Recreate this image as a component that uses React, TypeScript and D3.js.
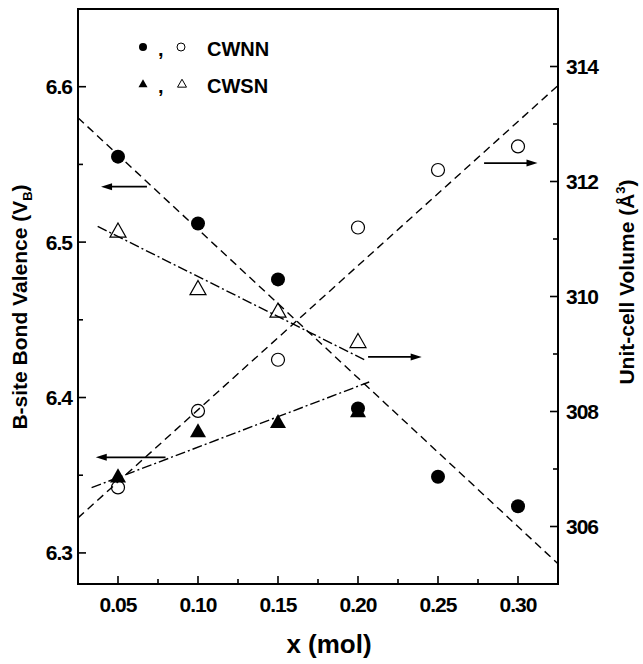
import React from "react";
import * as d3 from "d3";

const xValues = [0.05, 0.1, 0.15, 0.2, 0.25, 0.3];
const xValuesSN = [0.05, 0.1, 0.15, 0.2];
const cwnnValence = [6.555, 6.512, 6.476, 6.393, 6.349, 6.33];
const cwnnVolume = [306.68, 308.01, 308.9, 311.2, 312.2, 312.61];
const cwsnValence = [6.349, 6.378, 6.384, 6.391];
const cwsnVolume = [311.13, 310.13, 309.74, 309.21];

const cwnnValenceFit = [[0.025, 6.58], [0.325, 6.293]];
const cwnnVolumeFit = [[0.025, 306.15], [0.325, 313.67]];
const cwsnValenceFit = [[0.0335, 6.342], [0.207, 6.41]];
const cwsnVolumeFit = [[0.0373, 311.22], [0.204, 308.9]];

// arrows: axis, y value, tail x, head x
const arrows = [
  { axis: "left", y: 6.5357, from: 0.0681, to: 0.0394 },
  { axis: "right", y: 312.32, from: 0.2788, to: 0.3122 },
  { axis: "right", y: 308.95, from: 0.2063, to: 0.2398 },
  { axis: "left", y: 6.3615, from: 0.0797, to: 0.0361 },
];

const xTicks = [0.05, 0.1, 0.15, 0.2, 0.25, 0.3];
const xMinor = [0.075, 0.125, 0.175, 0.225, 0.275];
const leftTicks = [6.3, 6.4, 6.5, 6.6];
const leftMinor = [6.35, 6.45, 6.55];
const rightTicks = [306, 308, 310, 312, 314];
const rightMinor = [307, 309, 311, 313];

const W = 643;
const H = 664;
const m = { left: 78, right: 558, top: 9, bottom: 584 };
const FONT = "'Liberation Sans', Arial, Helvetica, sans-serif";

export default function App() {
  const x = d3.scaleLinear().domain([0.025, 0.325]).range([m.left, m.right]);
  const yL = d3.scaleLinear().domain([6.28, 6.65]).range([m.bottom, m.top]);
  const yR = d3.scaleLinear().domain([305, 315]).range([m.bottom, m.top]);

  const lineL = d3.line<number[]>().x((d) => x(d[0])).y((d) => yL(d[1]));
  const lineR = d3.line<number[]>().x((d) => x(d[0])).y((d) => yR(d[1]));

  const tri = (cx: number, cy: number, s: number) => {
    const h = s * 0.88;
    return `M${cx},${cy - h * 0.6}L${cx + s / 2},${cy + h * 0.4}L${cx - s / 2},${cy + h * 0.4}Z`;
  };

  const major = 8;
  const minor = 5;

  return (
    <svg
      width={W}
      height={H}
      style={{ position: "absolute", left: 0, top: 0, background: "#fff" }}
      fontFamily={FONT}
    >
      <rect x={0} y={0} width={W} height={H} fill="#fff" />
      {/* fit lines */}
      <path d={lineL(cwnnValenceFit) || ""} fill="none" stroke="#000" strokeWidth={1.4} strokeDasharray="8,5" />
      <path d={lineR(cwnnVolumeFit) || ""} fill="none" stroke="#000" strokeWidth={1.4} strokeDasharray="8,5" />
      <path d={lineL(cwsnValenceFit) || ""} fill="none" stroke="#000" strokeWidth={1.4} strokeDasharray="10,3,2,3" />
      <path d={lineR(cwsnVolumeFit) || ""} fill="none" stroke="#000" strokeWidth={1.4} strokeDasharray="10,3,2,3" />

      {/* arrows */}
      {arrows.map((a, i) => {
        const yy = a.axis === "left" ? yL(a.y) : yR(a.y);
        const x1 = x(a.from);
        const x2 = x(a.to);
        const dir = x2 > x1 ? 1 : -1;
        const hl = 11;
        return (
          <g key={i}>
            <line x1={x1} y1={yy} x2={x2 - dir * hl * 0.8} y2={yy} stroke="#000" strokeWidth={1.6} />
            <path d={`M${x2},${yy}L${x2 - dir * hl},${yy - 3.5}L${x2 - dir * hl},${yy + 3.5}Z`} fill="#000" />
          </g>
        );
      })}

      {/* data markers */}
      {cwnnValence.map((v, i) => (
        <circle key={"a" + i} cx={x(xValues[i])} cy={yL(v)} r={7} fill="#000" />
      ))}
      {cwnnVolume.map((v, i) => (
        <circle key={"b" + i} cx={x(xValues[i])} cy={yR(v)} r={6.5} fill="#fff" fillOpacity={0} stroke="#000" strokeWidth={1.2} />
      ))}
      {cwsnValence.map((v, i) => (
        <path key={"c" + i} d={tri(x(xValuesSN[i]), yL(v), 16)} fill="#000" />
      ))}
      {cwsnVolume.map((v, i) => (
        <path key={"d" + i} d={tri(x(xValuesSN[i]), yR(v), 16)} fill="none" stroke="#000" strokeWidth={1.2} />
      ))}

      {/* frame */}
      <rect x={m.left} y={m.top} width={m.right - m.left} height={m.bottom - m.top} fill="none" stroke="#000" strokeWidth={2} />

      {/* x ticks */}
      {xTicks.map((t) => (
        <g key={"xt" + t}>
          <line x1={x(t)} x2={x(t)} y1={m.bottom} y2={m.bottom - major} stroke="#000" strokeWidth={1.6} />
          <text x={x(t)} y={612} textAnchor="middle" fontSize={21} fontWeight="bold" letterSpacing={-1}>
            {d3.format(".2f")(t)}
          </text>
        </g>
      ))}
      {xMinor.map((t) => (
        <line key={"xm" + t} x1={x(t)} x2={x(t)} y1={m.bottom} y2={m.bottom - minor} stroke="#000" strokeWidth={1.6} />
      ))}

      {/* left ticks */}
      {leftTicks.map((t) => (
        <g key={"lt" + t}>
          <line x1={m.left} x2={m.left + major} y1={yL(t)} y2={yL(t)} stroke="#000" strokeWidth={1.6} />
          <text x={72} y={yL(t)} dy="0.36em" textAnchor="end" fontSize={21} fontWeight="bold" letterSpacing={-1}>
            {d3.format(".1f")(t)}
          </text>
        </g>
      ))}
      {leftMinor.map((t) => (
        <line key={"lm" + t} x1={m.left} x2={m.left + minor} y1={yL(t)} y2={yL(t)} stroke="#000" strokeWidth={1.6} />
      ))}

      {/* right ticks */}
      {rightTicks.map((t) => (
        <g key={"rt" + t}>
          <line x1={m.right} x2={m.right - major} y1={yR(t)} y2={yR(t)} stroke="#000" strokeWidth={1.6} />
          <text x={566} y={yR(t)} dy="0.36em" textAnchor="start" fontSize={21} fontWeight="bold" letterSpacing={-1}>
            {String(t)}
          </text>
        </g>
      ))}
      {rightMinor.map((t) => (
        <line key={"rm" + t} x1={m.right} x2={m.right - minor} y1={yR(t)} y2={yR(t)} stroke="#000" strokeWidth={1.6} />
      ))}

      {/* axis titles */}
      <text x={329} y={653} textAnchor="middle" fontSize={26} fontWeight="bold">
        x (mol)
      </text>
      <text transform={`translate(27,307) rotate(-90)`} textAnchor="middle" fontSize={21} fontWeight="bold">
        B-site Bond Valence (V
        <tspan fontSize={13} dy={5}>B</tspan>
        <tspan dy={-5}>)</tspan>
      </text>
      <text transform={`translate(634,282) rotate(-90)`} textAnchor="middle" fontSize={21} fontWeight="bold">
        Unit-cell Volume (Å
        <tspan fontSize={13} dy={-9}>3</tspan>
        <tspan dy={9}>)</tspan>
      </text>

      {/* legend */}
      <circle cx={143} cy={47} r={4} fill="#000" />
      <text x={158} y={56} fontSize={20} fontWeight="bold">,</text>
      <circle cx={181} cy={47} r={4} fill="none" stroke="#000" strokeWidth={1} />
      <text x={207} y={56} fontSize={20} fontWeight="bold">CWNN</text>
      <path d={tri(143, 84, 9)} fill="#000" />
      <text x={158} y={93} fontSize={20} fontWeight="bold">,</text>
      <path d={tri(182, 84, 9)} fill="none" stroke="#000" strokeWidth={1} />
      <text x={207} y={93} fontSize={20} fontWeight="bold">CWSN</text>
    </svg>
  );
}
